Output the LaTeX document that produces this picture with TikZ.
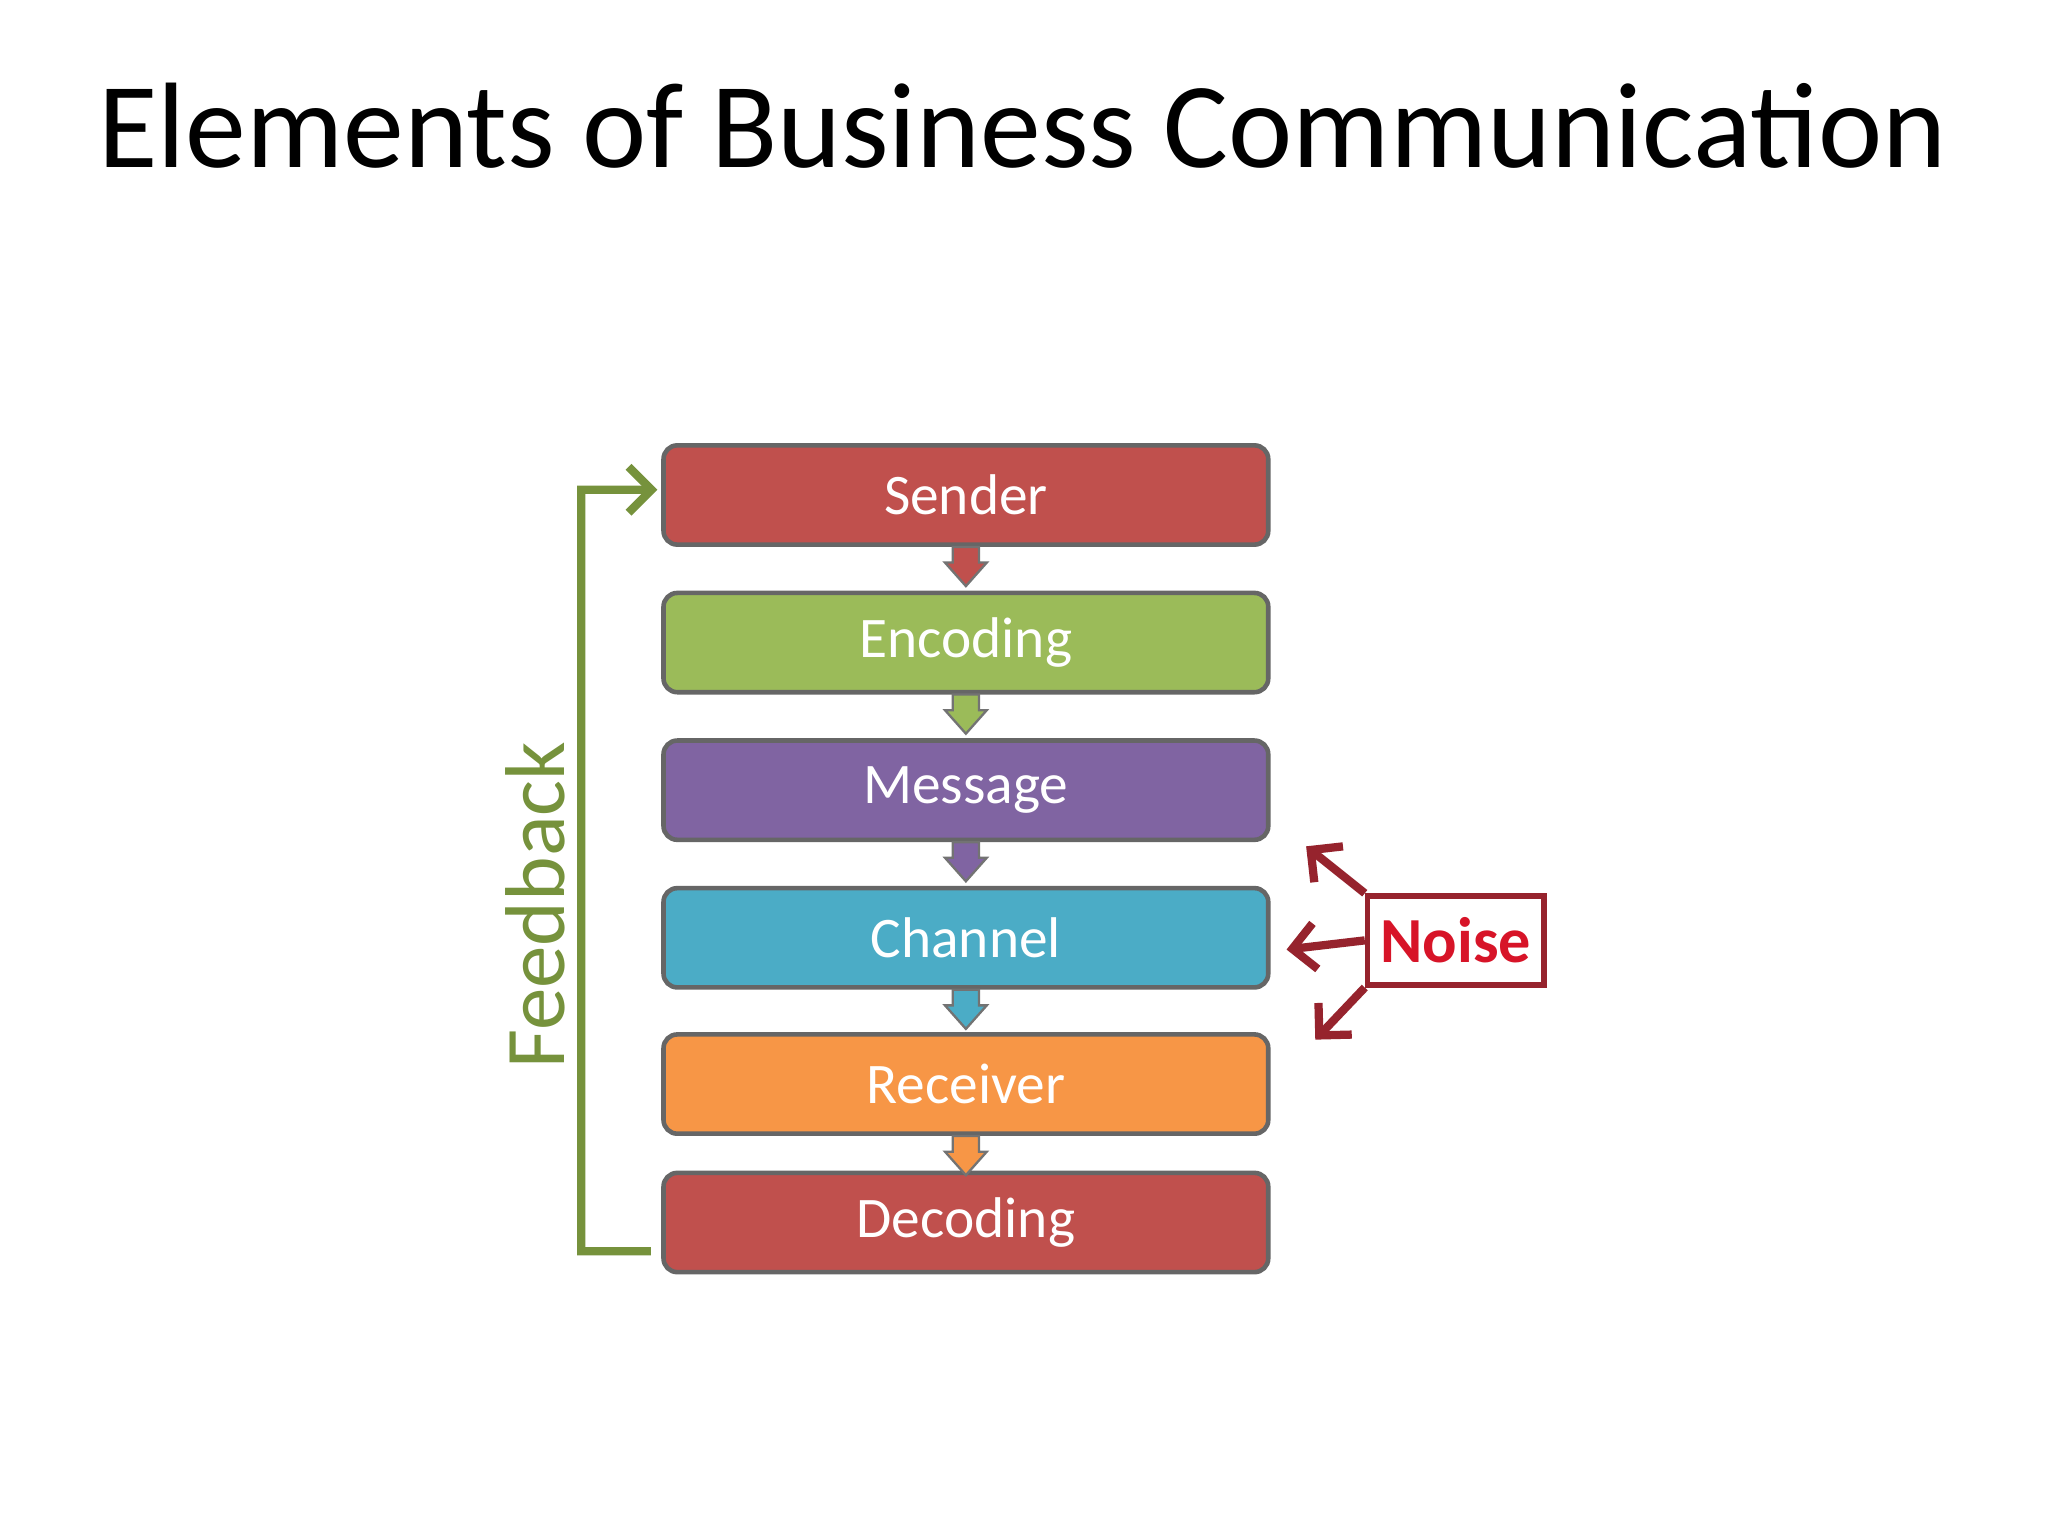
\documentclass[tikz,border=0pt]{standalone}
\usepackage{fontspec}
\setmainfont{Carlito}
\usetikzlibrary{arrows.meta,calc}
\definecolor{cred}{RGB}{192,80,77}
\definecolor{cgreen}{RGB}{155,187,89}
\definecolor{cpurple}{RGB}{128,100,162}
\definecolor{cblue}{RGB}{75,172,198}
\definecolor{corange}{RGB}{247,150,70}
\definecolor{fbgreen}{RGB}{118,146,60}
\definecolor{noisered}{RGB}{150,35,45}
\definecolor{noisetext}{RGB}{215,20,40}
\tikzset{
  stepbox/.style={draw=black!60,line width=1pt,rounded corners=3pt,minimum width=4.63cm,minimum height=0.76cm,inner sep=0pt,text=white,font=\fontsize{12.5}{14}\selectfont},
  minarrow/.style={draw=black!55,line width=0.5pt},
  noisearrow/.style={draw=noisered,line width=1.8pt,-{Straight Barb[length=5pt,width=10pt]}}
}
\newcommand{\minidown}[2]{%
  \fill[#2,minarrow] ($(#1.south)+(-0.1,0)$) -- ++(0,-0.12) -- ++(-0.06,0) -- ($(#1.south)+(0,-0.3)$) -- ($(#1.south)+(0.16,-0.12)$) -- ++(-0.06,0) -- ($(#1.south)+(0.1,0)$) -- cycle;}
\begin{document}
\begin{tikzpicture}[x=1cm,y=1cm]
\useasboundingbox[fill=white] (0,0) rectangle (15.68,11.76);
\node[font=\fontsize{26.5}{30}\selectfont,anchor=base] (title) at (7.83,10.48) {Elements of Business Communication};
\node[stepbox,fill=cred] (s) at (7.395,7.97) {Sender};
\node[stepbox,fill=cgreen] (e) at (7.395,6.84) {Encoding};
\node[stepbox,fill=cpurple] (m) at (7.395,5.71) {Message};
\node[stepbox,fill=cblue] (c) at (7.395,4.58) {Channel};
\node[stepbox,fill=corange] (r) at (7.395,3.46) {Receiver};
\node[stepbox,fill=cred] (d) at (7.395,2.40) {Decoding};
\minidown{s}{cred}
\minidown{e}{cgreen}
\minidown{m}{cpurple}
\minidown{c}{cblue}
\minidown{r}{corange}
\coordinate (fl) at (4.45,2.18);
\coordinate (ft) at (4.45,8.01);
\draw[fbgreen,line width=1.8pt,-{Straight Barb[length=5pt,width=10pt]}] ($(d.west)+(-0.08,-0.22)$) -- (fl) -- (ft) -- ($(s.west)+(-0.03,0.04)$);
\node[rotate=90,text=fbgreen,font=\fontsize{18.5}{20}\selectfont] (fb) at (4.10,4.83) {Feedback};
\node[draw=noisered,line width=1.2pt,minimum width=1.35cm,minimum height=0.68cm,inner sep=0pt,text=noisetext,font=\bfseries\fontsize{14}{16}\selectfont] (n) at (11.145,4.56) {Noise};
\draw[noisearrow] (n.north west) -- (10.0,5.28);
\draw[noisearrow] (n.west) -- (9.85,4.49);
\draw[noisearrow] (n.south west) -- (10.07,3.80);
\end{tikzpicture}
\end{document}
